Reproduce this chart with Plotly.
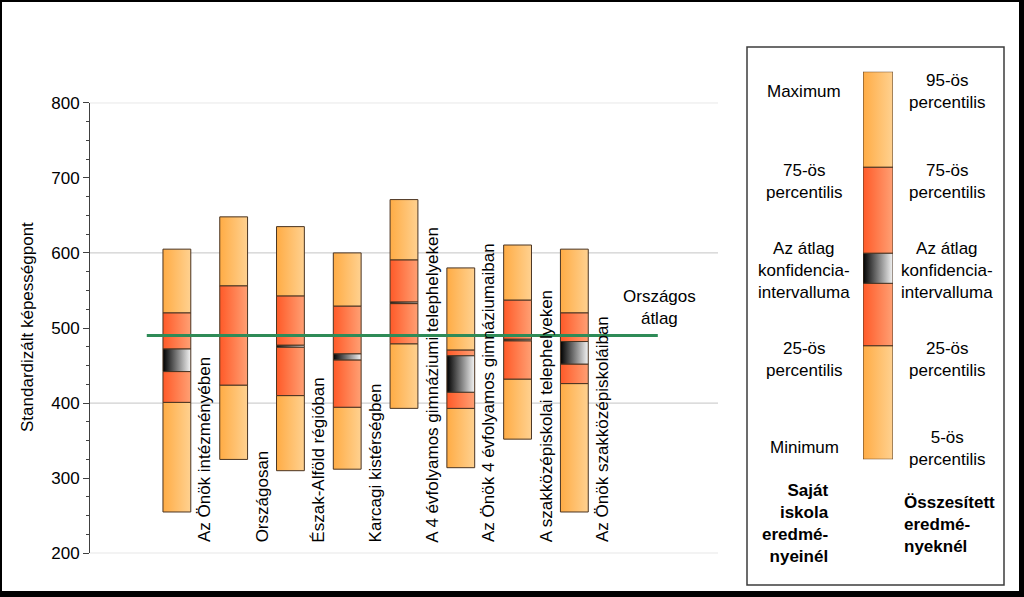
import plotly.graph_objects as go
import numpy as np

# ---------------- data ----------------
categories = [
    "Az Önök intézményében",
    "Országosan",
    "Észak-Alföld régióban",
    "Karcagi kistérségben",
    "A 4 évfolyamos gimnáziumi telephelyeken",
    "Az Önök 4 évfolyamos gimnáziumaiban",
    "A szakközépiskolai telephelyeken",
    "Az Önök szakközépiskoláiban",
]
mins  = [255, 325, 310, 312, 393, 314, 352, 255]
p25   = [401, 424, 410, 394.5, 479, 393, 432, 426]
ci_lo = [442, 489, 474.5, 457.5, 532.5, 414.5, 483, 452]
ci_hi = [472, 491, 477, 465.5, 534.5, 463, 485, 482]
p75   = [520, 556, 542.5, 529, 590.5, 470.5, 537, 520]
maxs  = [605, 648, 635, 600, 671, 580, 610.5, 605]
national_avg = 490
avg_label = "Országos<br>átlag"

y_title = "Standardizált képességpont"
y_ticks = [200, 300, 400, 500, 600, 700, 800]
grid_values = [200, 400, 600, 800]

# legend sample levels (min, p25, ci_lo, ci_hi, p75, max)
legend_levels = [0, 113.6, 176, 206, 292, 387.6]
legend_left = ["Maximum", "75-ös<br>percentilis", "Az átlag<br>konfidencia-<br>intervalluma",
               "25-ös<br>percentilis", "Minimum"]
legend_right = ["95-ös<br>percentilis", "75-ös<br>percentilis", "Az átlag<br>konfidencia-<br>intervalluma",
                "25-ös<br>percentilis", "5-ös<br>percentilis"]
legend_bold_left = "<b>Saját<br>iskola<br>eredmé-<br>nyeinél</b>"
legend_bold_right = "<b>Összesített<br>eredmé-<br>nyeknél</b>"

# ---------------- styling ----------------
W, H = 1024, 597
FONT = "Liberation Sans, Arial, sans-serif"
LIGHT = [[0, "#FFAC45"], [1, "#FFD190"]]
DARK = [[0, "#FF5A28"], [1, "#FFA074"]]
CIG = [[0, "#000000"], [1, "#F4F4F4"]]
EDGE = "#4A3422"
GREEN = "#2E8B57"


def px(x):
    return x / W


def py(y):
    return 1 - y / H


def seg_trace(x0, x1, spans, scale, xaxis="x", yaxis="y"):
    xs, ys = [], []
    for k, (lo, hi) in enumerate(spans):
        if k:
            xs.append(None)
            ys.append(None)
        xs += [x0, x1, x1, x0, x0]
        ys += [lo, lo, hi, hi, lo]
    return go.Scatter(
        x=xs, y=ys, mode="lines", fill="toself",
        fillgradient=dict(type="horizontal", colorscale=scale, start=x0, stop=x1),
        line=dict(color=EDGE, width=1),
        hoverinfo="skip", showlegend=False, xaxis=xaxis, yaxis=yaxis,
    )


fig = go.Figure()

x_pos = np.arange(len(categories)) + 1.53
bar_w = 0.49

for i in range(len(categories)):
    x0, x1 = x_pos[i] - bar_w / 2, x_pos[i] + bar_w / 2
    fig.add_trace(seg_trace(x0, x1, [(mins[i], p25[i]), (p75[i], maxs[i])], LIGHT))
    fig.add_trace(seg_trace(x0, x1, [(p25[i], ci_lo[i]), (ci_hi[i], p75[i])], DARK))
    fig.add_trace(seg_trace(x0, x1, [(ci_lo[i], ci_hi[i])], CIG))

# national average line
fig.add_trace(go.Scatter(
    x=[x_pos[0] - 0.53, x_pos[-1] + 1.47], y=[national_avg, national_avg],
    mode="lines", line=dict(color=GREEN, width=3), hoverinfo="skip", showlegend=False))

# legend sample bar
L = legend_levels
fig.add_trace(seg_trace(0, 1, [(L[0], L[1]), (L[4], L[5])], LIGHT, "x2", "y2"))
fig.add_trace(seg_trace(0, 1, [(L[1], L[2]), (L[3], L[4])], DARK, "x2", "y2"))
fig.add_trace(seg_trace(0, 1, [(L[2], L[3])], CIG, "x2", "y2"))

annotations = []
for i, c in enumerate(categories):
    annotations.append(dict(
        x=x_pos[i] + 0.5, y=200, xref="x", yref="y", text=c, textangle=-90,
        showarrow=False, xanchor="center", yanchor="bottom", yshift=9,
        font=dict(family=FONT, size=17, color="black")))

annotations.append(dict(
    x=x_pos[-1] + 1.5, y=527, xref="x", yref="y", text=avg_label, showarrow=False,
    xanchor="center", yanchor="middle", align="center",
    font=dict(family=FONT, size=17, color="black")))

annotations.append(dict(
    x=px(27), y=py(327), xref="paper", yref="paper", text=y_title, textangle=-90,
    showarrow=False, xanchor="center", yanchor="middle",
    font=dict(family=FONT, size=17, color="black")))

left_y = [92, 181, 270, 359, 447]
right_y = [92, 181, 270, 359, 448]
for t, yy in zip(legend_left, left_y):
    annotations.append(dict(x=px(804), y=py(yy), xref="paper", yref="paper", text=t,
                            showarrow=False, xanchor="center", yanchor="middle", align="center",
                            font=dict(family=FONT, size=17, color="black")))
for t, yy in zip(legend_right, right_y):
    annotations.append(dict(x=px(947), y=py(yy), xref="paper", yref="paper", text=t,
                            showarrow=False, xanchor="center", yanchor="middle", align="center",
                            font=dict(family=FONT, size=17, color="black")))
annotations.append(dict(x=px(831), y=py(523), xref="paper", yref="paper", text=legend_bold_left,
                        showarrow=False, xanchor="right", yanchor="middle", align="right",
                        font=dict(family=FONT, size=17, color="black")))
annotations.append(dict(x=px(902), y=py(524), xref="paper", yref="paper", text=legend_bold_right,
                        showarrow=False, xanchor="left", yanchor="middle", align="left",
                        font=dict(family=FONT, size=17, color="black")))

shapes = []
for g in grid_values:
    shapes.append(dict(type="line", xref="x domain", x0=0, x1=1, yref="y", y0=g, y1=g,
                       line=dict(color="#C4C4C4", width=1), layer="below"))
# legend frame
shapes.append(dict(type="rect", xref="paper", yref="paper", x0=px(747), x1=px(1004),
                   y0=py(585), y1=py(47), line=dict(color="#3C3C3C", width=1.5)))
# outer frame
for (a, b, c, d) in [(0, 1024, 0, 2), (0, 2, 0, 597), (1019, 1024, 0, 597), (0, 1024, 591, 597)]:
    shapes.append(dict(type="rect", xref="paper", yref="paper", x0=px(a), x1=px(b),
                       y0=py(d), y1=py(c), fillcolor="black", line=dict(width=0)))

fig.update_layout(
    template="none",
    width=W, height=H,
    margin=dict(l=0, r=0, t=0, b=0, pad=0, autoexpand=False),
    paper_bgcolor="white", plot_bgcolor="white",
    font=dict(family=FONT, size=17, color="black"),
    showlegend=False,
    xaxis=dict(domain=[px(90), px(718)], range=[0, 11.06], visible=False, automargin=False),
    yaxis=dict(domain=[py(553.3), py(102.7)], range=[200, 800], automargin=False,
               tickvals=y_ticks, ticks="outside", ticklen=6, tickcolor="#404040",
               showline=True, linecolor="#404040", linewidth=1,
               showgrid=False, zeroline=False,
               minor=dict(dtick=25, ticks="outside", ticklen=3, tickcolor="#404040", showgrid=False),
               tickfont=dict(family=FONT, size=17, color="black")),
    xaxis2=dict(domain=[px(863), px(893)], range=[0, 1], visible=False, anchor="y2", automargin=False),
    yaxis2=dict(domain=[py(459.3), py(71.7)], range=[L[0], L[-1]], visible=False, anchor="x2",
                automargin=False),
    annotations=annotations,
    shapes=shapes,
)

page_fix = (
    "document.documentElement.style.margin='0';"
    "document.documentElement.style.overflow='hidden';"
    "document.body.style.margin='0';document.body.style.padding='0';"
    "document.body.style.overflow='hidden';"
    "var gd=document.getElementById('{plot_id}');"
    "gd.style.position='absolute';gd.style.left='0px';gd.style.top='0px';"
)

fig.write_html("out.html", post_script=page_fix, config={"displayModeBar": False})
